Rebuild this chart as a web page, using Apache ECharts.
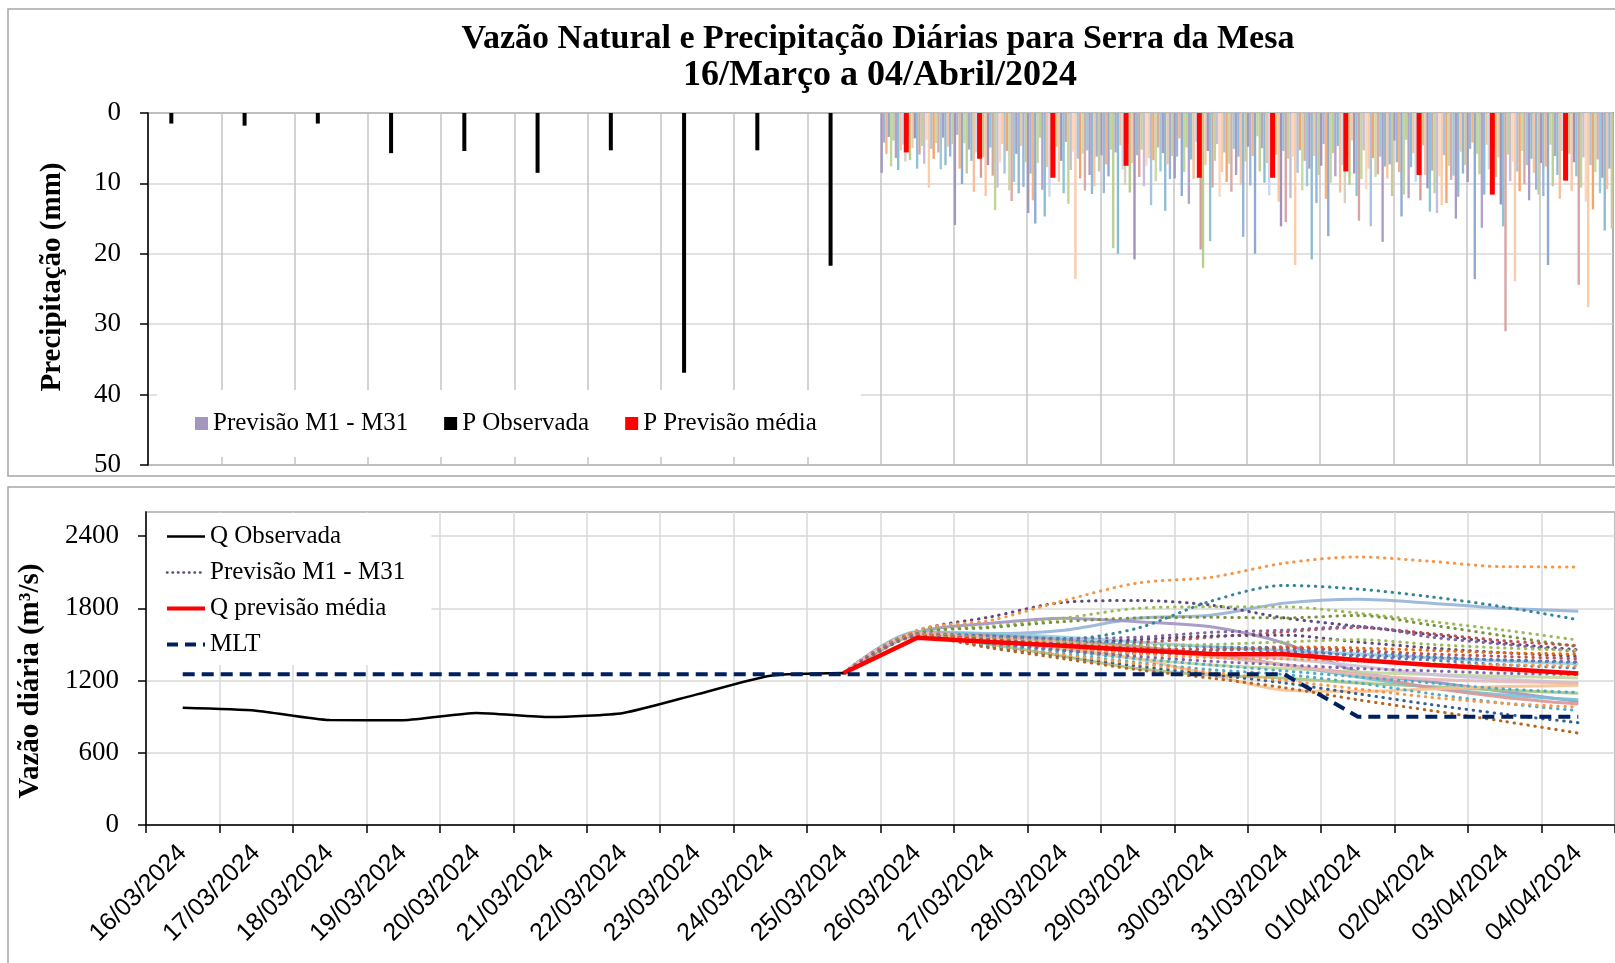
<!DOCTYPE html>
<html>
<head>
<meta charset="utf-8">
<script src="https://cdn.jsdelivr.net/npm/echarts@6/dist/echarts.min.js"></script>
<style>
html, body { margin: 0; padding: 0; background: #fff; }
#chart { width: 1615px; height: 963px; }
</style>
</head>
<body>
<div id="chart"></div>
<script>
// dias do gráfico
const dias = ['16/03/2024', '17/03/2024', '18/03/2024', '19/03/2024', '20/03/2024',
  '21/03/2024', '22/03/2024', '23/03/2024', '24/03/2024', '25/03/2024',
  '26/03/2024', '27/03/2024', '28/03/2024', '29/03/2024', '30/03/2024',
  '31/03/2024', '01/04/2024', '02/04/2024', '03/04/2024', '04/04/2024'];

// precipitação observada (16/03 a 25/03) e média prevista (26/03 a 04/04), mm
const pObservada = [1.5, 1.8, 1.5, 5.7, 5.4, 8.5, 5.3, 36.9, 5.3, 21.7];
const pMedia = [5.6, 6.5, 9.2, 7.5, 9.2, 9.2, 8.3, 8.8, 11.6, 9.6];

// precipitação prevista por membro M1..M31 (26/03 a 04/04), mm
const pMembros = [
  [8.5, 15.9, 14.2, 6.0, 9.3, 4.8, 7.5, 3.9, 9.8, 7.1],
  [4.2, 3.1, 8.6, 11.4, 6.2, 10.3, 4.4, 7.0, 5.1, 11.8],
  [5.8, 7.9, 12.4, 7.3, 3.6, 6.1, 12.2, 8.4, 4.2, 7.6],
  [3.4, 10.1, 15.7, 9.0, 11.8, 20.0, 17.5, 14.7, 23.6, 21.6],
  [7.6, 4.3, 7.1, 5.2, 8.4, 3.3, 9.9, 11.6, 5.8, 4.5],
  [3.9, 8.6, 3.5, 19.2, 4.9, 8.3, 5.7, 3.8, 8.7, 10.4],
  [6.4, 5.2, 10.9, 5.6, 12.9, 5.0, 9.0, 12.1, 16.3, 6.1],
  [8.1, 6.8, 14.7, 20.0, 6.6, 9.9, 4.7, 7.7, 11.6, 8.8],
  [5.3, 11.2, 7.7, 4.6, 9.4, 7.1, 11.3, 5.7, 4.5, 12.2],
  [4.5, 5.6, 11.9, 8.0, 4.1, 11.7, 7.4, 9.8, 8.0, 5.4],
  [6.9, 3.7, 6.1, 10.2, 8.6, 4.5, 12.8, 6.6, 10.3, 8.2],
  [3.1, 9.2, 9.1, 4.4, 19.4, 9.1, 6.1, 12.4, 5.2, 9.6],
  [6.7, 6.3, 4.8, 11.3, 22.0, 5.9, 10.2, 4.6, 9.1, 5.8],
  [5.0, 11.8, 9.8, 7.1, 7.4, 12.6, 3.9, 8.8, 6.3, 11.1],
  [3.6, 7.4, 6.8, 20.8, 5.4, 16.1, 8.6, 10.7, 13.0, 7.0],
  [7.9, 4.9, 11.4, 6.0, 18.2, 5.4, 11.8, 14.0, 16.1, 9.0],
  [5.9, 8.9, 4.1, 9.1, 10.6, 15.5, 15.3, 8.2, 31.0, 24.4],
  [4.7, 13.8, 12.9, 5.2, 6.8, 6.5, 9.4, 11.4, 5.9, 10.6],
  [7.2, 10.6, 8.1, 10.4, 4.4, 12.1, 5.3, 14.2, 9.7, 6.3],
  [3.8, 7.0, 5.5, 7.5, 11.9, 6.2, 10.8, 9.0, 6.9, 12.6],
  [10.6, 4.4, 23.6, 6.4, 8.4, 21.6, 7.9, 13.1, 23.9, 27.6],
  [5.1, 8.6, 6.5, 13.1, 5.6, 8.5, 16.1, 6.0, 8.3, 7.4],
  [6.5, 5.4, 9.3, 6.7, 9.8, 5.3, 6.4, 12.8, 11.1, 13.7],
  [4.3, 11.0, 5.8, 9.7, 7.2, 11.0, 9.1, 7.5, 5.4, 8.4],
  [5.6, 12.5, 11.0, 4.9, 11.2, 6.8, 8.7, 9.5, 10.1, 6.6],
  [8.0, 9.8, 5.3, 8.3, 5.1, 10.4, 6.2, 8.9, 7.4, 11.4],
  [3.5, 5.8, 8.8, 5.7, 8.8, 7.9, 18.3, 15.0, 12.4, 9.2],
  [7.4, 11.4, 11.5, 13.9, 6.2, 20.8, 7.6, 11.9, 6.5, 16.7],
  [4.8, 4.7, 10.4, 7.3, 10.2, 6.1, 9.3, 5.5, 8.5, 10.8],
  [6.2, 10.5, 6.2, 9.4, 17.6, 12.8, 7.3, 8.6, 10.9, 7.9],
  [4.4, 7.0, 8.3, 6.1, 6.9, 8.8, 11.8, 7.4, 11.6, 16.4]
];

// vazão observada (16/03 a 25/03), média prevista (26/03 a 04/04) e MLT, m3/s
const qObservada = [974, 950, 872, 871, 931, 897, 931, 1085, 1240, 1262];
const qMedia = [1555, 1520, 1488, 1452, 1420, 1418, 1370, 1330, 1295, 1258];
const qMLT = [1252, 1252, 1252, 1252, 1252, 1252, 1252, 1252, 1252, 1252,
  1252, 1252, 1252, 1252, 1252, 1252, 899, 899, 899, 899];

// vazão prevista por membro (26/03 a 04/04), m3/s
const qMembros = [
  [1610, 1729, 1850, 1865, 1826, 1720, 1650, 1580, 1510, 1455],
  [1618, 1700, 1865, 2010, 2058, 2175, 2227, 2190, 2145, 2144],
  [1585, 1560, 1545, 1635, 1860, 1990, 1960, 1895, 1810, 1705],
  [1600, 1650, 1718, 1800, 1812, 1812, 1760, 1690, 1618, 1535],
  [1590, 1640, 1690, 1720, 1725, 1720, 1740, 1660, 1570, 1480],
  [1585, 1560, 1530, 1520, 1560, 1604, 1640, 1590, 1530, 1490],
  [1580, 1570, 1550, 1560, 1600, 1618, 1650, 1560, 1500, 1440],
  [1575, 1545, 1510, 1540, 1570, 1576, 1520, 1470, 1430, 1400],
  [1590, 1530, 1480, 1440, 1450, 1480, 1470, 1450, 1430, 1420],
  [1570, 1520, 1470, 1430, 1420, 1440, 1410, 1390, 1370, 1356],
  [1580, 1510, 1450, 1420, 1450, 1460, 1400, 1370, 1330, 1303],
  [1575, 1490, 1420, 1350, 1290, 1250, 1180, 1090, 1010, 950],
  [1570, 1480, 1400, 1320, 1250, 1180, 1090, 1000, 920, 850],
  [1565, 1470, 1380, 1290, 1220, 1140, 1040, 950, 860, 763],
  [1575, 1495, 1410, 1340, 1270, 1200, 1130, 1060, 1010, 980],
  [1580, 1500, 1440, 1380, 1330, 1280, 1230, 1180, 1130, 1100],
  [1590, 1570, 1540, 1500, 1480, 1470, 1440, 1400, 1370, 1350],
  [1585, 1550, 1520, 1490, 1500, 1520, 1540, 1500, 1470, 1450],
  [1580, 1540, 1500, 1470, 1460, 1470, 1450, 1420, 1400, 1380],
  [1575, 1520, 1470, 1420, 1390, 1380, 1360, 1340, 1330, 1320],
  [1570, 1510, 1450, 1400, 1360, 1330, 1300, 1280, 1260, 1250],
  [1600, 1590, 1618, 1718, 1743, 1843, 1876, 1843, 1800, 1776],
  [1600, 1676, 1718, 1688, 1646, 1510, 1272, 1190, 1107, 1025],
  [1605, 1590, 1560, 1520, 1480, 1450, 1420, 1390, 1360, 1340],
  [1590, 1540, 1460, 1380, 1330, 1300, 1270, 1250, 1235, 1222],
  [1595, 1560, 1520, 1470, 1420, 1380, 1320, 1250, 1210, 1180],
  [1570, 1500, 1400, 1300, 1245, 1220, 1180, 1150, 1120, 1095],
  [1600, 1580, 1540, 1480, 1410, 1330, 1230, 1140, 1080, 1040],
  [1595, 1570, 1530, 1480, 1420, 1330, 1250, 1140, 1060, 1005],
  [1590, 1540, 1470, 1380, 1250, 1120, 1110, 1130, 1150, 1160],
  [1590, 1560, 1520, 1460, 1400, 1330, 1250, 1210, 1190, 1180]
];

// estilos
const coresBarras = ['#a497be', '#9fb6d6', '#f5b382', '#8eaad3', '#c2d59c', '#bccf94',
  '#b1a3cb', '#86bfd4', '#f7c09a', '#c9d8ec', '#d7d1bf', '#d79a98', '#b7cd8e', '#f9c7a5',
  '#a092bd', '#8cc3d6', '#d8a4a3', '#c0d49a', '#c7bcd9', '#fbd7bd', '#fbcca8', '#a9c1e2',
  '#f4a66a', '#c9d9a8', '#dba9a7', '#99c9da', '#aa9cc5', '#8fbad0', '#f8c49f', '#97b5d8',
  '#c8c9a0'];
const coresLinhas = ['#5f497a', '#f79646', '#31859c', '#9bbb59', '#77933c', '#c0504d',
  '#8064a2', '#5f497a', '#e46c0a', '#8064a2', '#4f81bd', '#4bacc6', '#376092', '#b7651d',
  '#f79646', '#4bacc6', '#4f81bd', '#9bbb59', '#c0504d', '#f79646', '#8064a2',
  '#95b3d7', '#a193c3', '#93cddd', '#c3d69b', '#ccc1da', '#a9c47f', '#78c0d4', '#d99694',
  '#fac090', '#e6b9b8'];
const nPontilhadas = 21;

const serif = '"Liberation Serif", serif';
const sans = '"Liberation Sans", sans-serif';
const nulls = (n) => Array(n).fill(null);
const pontos = [0.5, 6.5];

let myChart = echarts.init(document.getElementById('chart'));

const series = [];
// barras dos membros
pMembros.forEach((row, i) => {
  series.push({
    name: 'Previsão M1 - M31',
    type: 'bar',
    xAxisIndex: 0,
    yAxisIndex: 0,
    data: nulls(10).concat(row),
    barGap: '0%',
    barCategoryGap: '0%',
    itemStyle: { color: coresBarras[i] },
    silent: true,
  });
});
// P observada + vaga vazia para deslocar a barra
series.push({
  name: 'P Observada', type: 'bar', xAxisIndex: 1, yAxisIndex: 0,
  data: pObservada.concat(nulls(10)), barWidth: 4, barGap: '565%',
  itemStyle: { color: '#000000' }, z: 3,
});
series.push({ type: 'bar', xAxisIndex: 1, yAxisIndex: 0, data: nulls(20), barWidth: 4, barGap: '565%' });
// P previsão média
series.push({
  name: 'P Previsão média', type: 'bar', xAxisIndex: 2, yAxisIndex: 0,
  data: nulls(10).concat(pMedia), barWidth: 5, barGap: '332%',
  itemStyle: { color: '#ff0000' }, z: 4,
});
series.push({ type: 'bar', xAxisIndex: 2, yAxisIndex: 0, data: nulls(20), barWidth: 5, barGap: '332%' });

// linhas dos membros
qMembros.forEach((row, i) => {
  const pontilhada = i < nPontilhadas;
  series.push({
    name: 'Previsão M1 - M31 ',
    type: 'line',
    xAxisIndex: 3,
    yAxisIndex: 1,
    data: nulls(9).concat([qObservada[9]], row),
    symbol: 'none',
    smooth: 0.3,
    z: pontilhada ? 3 : 2,
    itemStyle: { color: coresLinhas[i] },
    lineStyle: pontilhada
      ? { color: coresLinhas[i], width: 3, type: pontos, cap: 'round' }
      : { color: coresLinhas[i], width: 3, opacity: 0.9 },
    silent: true,
  });
});
series.push({
  name: 'Q Observada', type: 'line', xAxisIndex: 3, yAxisIndex: 1,
  data: qObservada.concat(nulls(10)), symbol: 'none', smooth: 0.2, z: 5,
  itemStyle: { color: '#000000' },
  lineStyle: { color: '#000000', width: 2.5 },
});
series.push({
  name: 'Q previsão média', type: 'line', xAxisIndex: 3, yAxisIndex: 1,
  data: nulls(9).concat([qObservada[9]], qMedia), symbol: 'none', z: 6,
  itemStyle: { color: '#ff0000' },
  lineStyle: { color: '#ff0000', width: 4.5 },
});
series.push({
  name: 'MLT', type: 'line', xAxisIndex: 3, yAxisIndex: 1,
  data: qMLT, symbol: 'none', z: 7,
  itemStyle: { color: '#002060' },
  lineStyle: { color: '#002060', width: 4, type: [12, 7] },
});

const catAxis = {
  type: 'category',
  data: dias,
  boundaryGap: true,
};

let option = {
  animation: false,
  backgroundColor: '#ffffff',
  grid: [
    { left: 148, right: 2, top: 113, height: 352, show: true, borderColor: '#404040', borderWidth: 1.5 },
    { left: 146, right: 0, top: 512, height: 313, show: true, borderColor: '#404040', borderWidth: 1.5 },
  ],
  legend: [
    {
      data: ['Previsão M1 - M31', 'P Observada', 'P Previsão média'],
      left: 157,
      top: 390,
      orient: 'horizontal',
      icon: 'rect',
      itemWidth: 13,
      itemHeight: 13,
      itemGap: 36,
      padding: [21, 44, 21, 38],
      backgroundColor: '#ffffff',
      selectedMode: false,
      textStyle: { fontFamily: serif, fontSize: 25, color: '#000' },
    },
    {
      data: [
        { name: 'Q Observada', lineStyle: { width: 2.5, color: '#000000' } },
        { name: 'Previsão M1 - M31 ', lineStyle: { width: 2.5, color: '#5f497a', type: [0.5, 5], cap: 'round' } },
        { name: 'Q previsão média', lineStyle: { width: 4, color: '#ff0000' } },
        { name: 'MLT', lineStyle: { width: 4, color: '#002060', type: [11, 7] } },
      ],
      left: 147,
      top: 513,
      orient: 'vertical',
      itemWidth: 38,
      itemHeight: 14,
      itemGap: 11,
      padding: [11, 20, 8, 18],
      backgroundColor: '#ffffff',
      selectedMode: false,
      itemStyle: { opacity: 0 },
      textStyle: { fontFamily: serif, fontSize: 25, color: '#000' },
    },
  ],
  xAxis: [
    Object.assign({}, catAxis, {
      gridIndex: 0,
      axisLabel: { show: false },
      axisTick: { show: false },
      axisLine: { show: false },
      splitLine: { show: true, interval: 0, lineStyle: { color: '#c4c4c4', width: 1.5 } },
    }),
    Object.assign({}, catAxis, { gridIndex: 0, show: false }),
    Object.assign({}, catAxis, { gridIndex: 0, show: false }),
    Object.assign({}, catAxis, {
      gridIndex: 1,
      axisLine: { show: true, lineStyle: { color: '#000', width: 1.5 } },
      axisTick: { show: true, interval: 0, length: 8, lineStyle: { color: '#000', width: 1.5 } },
      axisLabel: { interval: 0, rotate: 45, margin: 24, fontFamily: sans, fontSize: 25, color: '#000' },
      splitLine: { show: true, interval: 0, lineStyle: { color: '#d9d9d9', width: 1.5 } },
    }),
  ],
  yAxis: [
    {
      gridIndex: 0,
      type: 'value',
      inverse: true,
      min: 0,
      max: 50,
      interval: 10,
      axisLine: { show: true, lineStyle: { color: '#000', width: 1.5 } },
      axisTick: { show: true, length: 8, lineStyle: { color: '#000', width: 1.5 } },
      axisLabel: { margin: 27, fontFamily: serif, fontSize: 27, color: '#000' },
      splitLine: { lineStyle: { color: '#d9d9d9', width: 1.5 } },
    },
    {
      gridIndex: 1,
      type: 'value',
      min: 0,
      max: 2600,
      interval: 600,
      axisLine: { show: true, lineStyle: { color: '#000', width: 1.5 } },
      axisTick: { show: true, length: 8, lineStyle: { color: '#000', width: 1.5 } },
      axisLabel: { margin: 27, fontFamily: serif, fontSize: 27, color: '#000', showMaxLabel: false,
        formatter: (v) => String(v) },
      splitLine: { lineStyle: { color: '#d9d9d9', width: 1.5 } },
    },
  ],
  graphic: [
    { type: 'rect', z: -1, shape: { x: 8, y: 9, width: 1620, height: 467 }, style: { fill: 'none', stroke: '#a6a6a6', lineWidth: 1.5 } },
    { type: 'rect', z: -1, shape: { x: 8, y: 487, width: 1620, height: 500 }, style: { fill: 'none', stroke: '#a6a6a6', lineWidth: 1.5 } },
    {
      type: 'text', x: 878, y: 39,
      style: { text: 'Vazão Natural e Precipitação Diárias para Serra da Mesa', align: 'center', verticalAlign: 'middle',
        fontFamily: serif, fontWeight: 'bold', fontSize: 34, fill: '#000' },
    },
    {
      type: 'text', x: 880, y: 76,
      style: { text: '16/Março a 04/Abril/2024', align: 'center', verticalAlign: 'middle',
        fontFamily: serif, fontWeight: 'bold', fontSize: 36, fill: '#000' },
    },
    {
      type: 'text', x: 53, y: 277, rotation: Math.PI / 2,
      style: { text: 'Precipitação (mm)', align: 'center', verticalAlign: 'middle',
        fontFamily: serif, fontWeight: 'bold', fontSize: 29, fill: '#000' },
    },
    {
      type: 'text', x: 31, y: 681, rotation: Math.PI / 2,
      style: { text: 'Vazão diária (m³/s)', align: 'center', verticalAlign: 'middle',
        fontFamily: serif, fontWeight: 'bold', fontSize: 29, fill: '#000' },
    },
  ],
  series: series,
};
myChart.setOption(option);
</script>
</body>
</html>
